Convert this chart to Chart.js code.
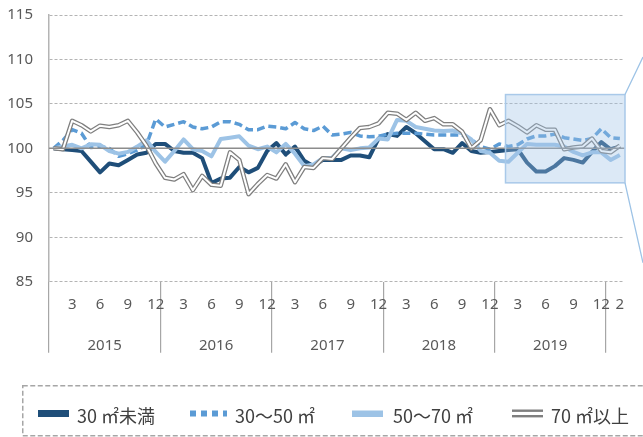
<!DOCTYPE html>
<html><head><meta charset="utf-8">
<script src="https://cdn.jsdelivr.net/npm/chart.js@4.4.1/dist/chart.umd.min.js"></script>
<style>
html,body{margin:0;padding:0;background:#fff;}
#wrap{position:relative;width:643px;height:437px;overflow:hidden;}
#c{position:absolute;left:0;top:0;}
#legend{position:absolute;left:0;top:0;pointer-events:none;}
.lt{position:absolute;top:404px;font-size:18px;font-family:"Noto Sans CJK JP",sans-serif;color:#404040;line-height:22px;white-space:nowrap;}
</style></head><body>
<div id="wrap">
<canvas id="c" width="643" height="437"></canvas>
<svg id="legend" width="643" height="437" xmlns="http://www.w3.org/2000/svg">
 <rect x="22.75" y="385.75" width="660" height="50" fill="none" stroke="#a6a6a6" stroke-width="1.5" stroke-dasharray="5 2.5"/>
 <rect x="38" y="410" width="31" height="7" fill="#1f4e79"/>
 <line x1="190" y1="413.5" x2="227" y2="413.5" stroke="#5b9bd5" stroke-width="6" stroke-dasharray="6 5"/>
 <rect x="352" y="410.5" width="31" height="6.5" fill="#9dc3e6"/>
 <rect x="512" y="409.5" width="31" height="2.4" fill="#7f7f7f"/>
 <rect x="512" y="415" width="31" height="2.4" fill="#7f7f7f"/>
</svg>
</div>
<script>
const categories = [
 '2015-01','2015-02','2015-03','2015-04','2015-05','2015-06','2015-07','2015-08','2015-09','2015-10','2015-11','2015-12',
 '2016-01','2016-02','2016-03','2016-04','2016-05','2016-06','2016-07','2016-08','2016-09','2016-10','2016-11','2016-12',
 '2017-01','2017-02','2017-03','2017-04','2017-05','2017-06','2017-07','2017-08','2017-09','2017-10','2017-11','2017-12',
 '2018-01','2018-02','2018-03','2018-04','2018-05','2018-06','2018-07','2018-08','2018-09','2018-10','2018-11','2018-12',
 '2019-01','2019-02','2019-03','2019-04','2019-05','2019-06','2019-07','2019-08','2019-09','2019-10','2019-11','2019-12',
 '2020-01','2020-02'
];
const years = ['2015','2016','2017','2018','2019'];
const seriesNames = ['30 ㎡未満', '30～50 ㎡', '50～70 ㎡', '70 ㎡以上'];

const under30 = [
 100, 99.9, 99.8, 99.7, 98.5, 97.3, 98.3, 98.1, 98.7, 99.3, 99.5, 100.5,
 100.5, 99.7, 99.5, 99.5, 98.9, 96.1, 96.6, 96.7, 97.9, 97.3, 97.8, 99.7,
 100.6, 99.3, 100.2, 98.6, 98.0, 98.7, 98.7, 98.7, 99.2, 99.2, 99.0, 101.1,
 101.6, 101.4, 102.4, 101.7, 100.8, 99.9, 99.9, 99.5, 100.6, 99.7, 99.5, 99.6,
 99.7, 99.8, 99.9, 98.4, 97.4, 97.4, 98.0, 98.9, 98.7, 98.4, 99.6, 100.7,
 99.9, 100.2
];
const from30to50 = [
 100, 100.9, 102.1, 101.7, 100.1, 100.2, 100.0, 99.1, 99.4, 99.8, 100.4, 103.3,
 102.4, 102.7, 103.0, 102.4, 102.2, 102.4, 103.0, 103.0, 102.7, 102.1, 102.1, 102.5,
 102.4, 102.2, 102.9, 102.2, 102.0, 102.5, 101.5, 101.6, 101.8, 101.4, 101.3, 101.35,
 101.6, 101.7, 101.7, 101.7, 101.6, 101.5, 101.5, 101.5, 101.5, 101.0, 100.2, 99.9,
 100.5, 100.2, 100.4, 101.05, 101.4, 101.4, 101.6, 101.2, 101.05, 100.9, 101.1, 102.2,
 101.2, 101.1
];
const from50to70 = [
 100, 100.2, 100.4, 100.0, 100.45, 100.4, 99.7, 99.4, 99.6, 100.2, 100.9, 99.6,
 98.5, 99.7, 101.0, 99.9, 99.7, 99.1, 101.05, 101.2, 101.35, 100.3, 99.9, 100.2,
 99.55, 100.5, 99.4, 98.0, 98.2, 98.9, 98.95, 100.0, 99.8, 100.0, 100.1, 101.1,
 101.0, 103.2, 103.1, 102.4, 102.2, 102.0, 101.95, 102.0, 101.7, 101.0, 99.7, 99.5,
 98.6, 98.5, 99.5, 100.5, 100.4, 100.4, 100.4, 100.2, 99.6, 99.2, 99.55, 99.55,
 98.7, 99.25
];
const over70 = [
 100, 99.9, 103.1, 102.6, 101.9, 102.55, 102.4, 102.6, 103.1, 101.8, 100.3, 98.3,
 96.7, 96.5, 97.1, 95.3, 96.9, 95.9, 95.8, 99.55, 98.7, 94.85, 96.0, 97.0,
 96.6, 98.2, 96.2, 97.9, 97.8, 98.9, 98.8, 100.0, 101.2, 102.3, 102.4, 102.8,
 104.0, 103.9, 103.2, 104.0, 103.1, 103.4, 102.7, 102.7, 101.9, 100.0, 100.9, 104.4,
 102.6, 103.1, 102.5, 101.8, 102.6, 102.1, 102.1, 99.9, 100.1, 100.2, 101.1, 99.7,
 99.55, 100.3
];

// legend text (real DOM text)
const legendLeft = [77, 235, 393, 551];
seriesNames.forEach((n, i) => {
  const s = document.createElement('span');
  s.className = 'lt'; s.style.left = legendLeft[i] + 'px'; s.textContent = n;
  document.getElementById('wrap').appendChild(s);
});

const tickFont = {family: '"Noto Sans", sans-serif', size: 15};

const overlayPlugin = {
  id: 'overlay',
  afterDatasetsDraw(chart) {
    const {ctx, chartArea: a, scales: {x, y}} = chart;
    ctx.save();
    // base line at 100
    const y100 = y.getPixelForValue(100);
    ctx.strokeStyle = '#8c8c8c'; ctx.lineWidth = 1.5;
    ctx.beginPath(); ctx.moveTo(a.left, y100); ctx.lineTo(a.right, y100); ctx.stroke();
    // highlight box
    const step = x.getPixelForValue(1) - x.getPixelForValue(0);
    const bl = x.getPixelForValue(categories.indexOf('2019-02')) - step * 0.32;
    const br = a.right + 0.5;
    const bt = y.getPixelForValue(106.05), bb = y.getPixelForValue(96.12);
    ctx.fillStyle = 'rgba(157,195,230,0.36)';
    ctx.fillRect(bl, bt, br - bl, bb - bt);
    ctx.strokeStyle = '#a9c9e9'; ctx.lineWidth = 1.5;
    ctx.strokeRect(bl, bt, br - bl, bb - bt);
    ctx.strokeStyle = '#9dc3e6'; ctx.lineWidth = 1.3;
    ctx.beginPath();
    ctx.moveTo(br, bt); ctx.lineTo(chart.width, bt - 37.5);
    ctx.moveTo(br, bb); ctx.lineTo(chart.width, bb + 80);
    ctx.stroke();
    ctx.restore();
  }
};

new Chart(document.getElementById('c'), {
  type: 'line',
  data: {
    labels: categories,
    datasets: [
      {label: seriesNames[0], data: under30, borderColor: '#1f4e79', borderWidth: 4, order: 5},
      {label: seriesNames[1], data: from30to50, borderColor: '#5b9bd5', borderWidth: 3.5, borderDash: [8, 4], order: 4},
      {label: seriesNames[2], data: from50to70, borderColor: '#9dc3e6', borderWidth: 4, order: 3},
      {label: seriesNames[3], data: over70, borderColor: '#7f7f7f', borderWidth: 4.5, order: 2},
      {label: seriesNames[3] + ' (inner)', data: over70, borderColor: '#ffffff', borderWidth: 2, order: 1}
    ]
  },
  options: {
    responsive: false, animation: false, devicePixelRatio: 1, events: [],
    layout: {padding: {left: 0, top: 15, right: 18.5, bottom: 85.3}},
    elements: {
      line: {tension: 0, borderJoinStyle: 'round', borderCapStyle: 'butt', fill: false},
      point: {radius: 0, hoverRadius: 0}
    },
    plugins: {legend: {display: false}, tooltip: {enabled: false}},
    scales: {
      x: {
        type: 'category', position: 'bottom', offset: true, weight: 0,
        grid: {
          display: true, drawOnChartArea: false, drawTicks: true, tickLength: 71, offset: true, lineWidth: 1.2,
          color: c => (c.index % 12 === 0 || c.index === categories.length) ? '#a6a6a6' : 'rgba(0,0,0,0)'
        },
        border: {display: false},
        ticks: {
          autoSkip: false, maxRotation: 0, minRotation: 0, padding: -57, color: '#595959', font: tickFont,
          callback: function (v, i) {
            const m = parseInt(categories[i].slice(5), 10);
            return (m % 3 === 0 || i === categories.length - 1) ? String(m) : '';
          }
        },
        afterFit(s) { s.height = 40; }
      },
      x2: {
        type: 'linear', position: 'bottom', min: 0, max: categories.length, weight: 1, offset: false,
        grid: {display: false}, border: {display: false},
        afterBuildTicks(s) { s.ticks = years.map((yr, k) => ({value: 6 + 12 * k})); },
        ticks: {autoSkip: false, maxRotation: 0, padding: 7, color: '#595959', font: tickFont,
          callback: (v, i) => years[i]},
        afterFit(s) { s.height = 30; }
      },
      y: {
        min: 85, max: 115, position: 'left',
        ticks: {stepSize: 5, padding: 0, color: '#595959', font: tickFont},
        grid: {color: '#b4b4b4', lineWidth: 1, drawTicks: true, tickLength: 16, tickColor: 'rgba(0,0,0,0)'},
        border: {display: true, color: '#b4b4b4', width: 1.5, dash: [3, 2]},
        afterFit(s) { s.width = 49; }
      }
    }
  },
  plugins: [overlayPlugin]
});
</script>
</body></html>
